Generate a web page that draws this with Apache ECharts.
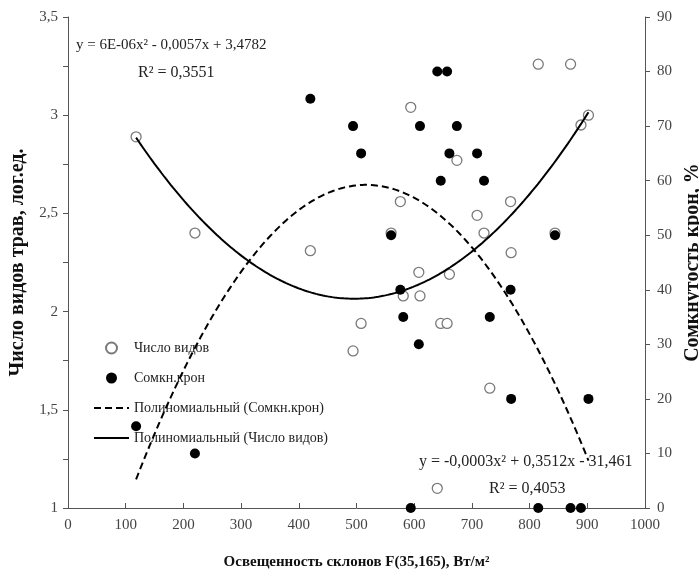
<!DOCTYPE html>
<html>
<head>
<meta charset="utf-8">
<script src="https://cdn.jsdelivr.net/npm/echarts@6/dist/echarts.min.js"></script>
<style>
  html, body { margin: 0; padding: 0; background: #fff; }
  #chart { width: 699px; height: 578px; }
</style>
</head>
<body>
<div id="chart"></div>
<script>
// Slope illumination F(35,165), W/m² for each surveyed site
const illumination = [118, 220, 420, 494, 508, 560, 576, 581, 594, 608, 610, 640, 646,
                      657, 661, 674, 709, 721, 731, 767, 768, 815, 844, 871, 889, 902];
// Number of herb species, log units (left axis)
const speciesLog = [2.89, 2.40, 2.31, 1.80, 1.94, 2.40, 2.56, 2.08, 3.04, 2.20, 2.08, 1.10, 1.94,
                    1.94, 2.19, 2.77, 2.49, 2.40, 1.61, 2.56, 2.30, 3.26, 2.40, 3.26, 2.95, 3.00];
// Canopy closure, % (right axis)
const canopyPct = [15, 10, 75, 70, 65, 50, 40, 35, 0, 30, 70, 80, 60,
                   80, 65, 70, 65, 60, 35, 40, 20, 0, 50, 0, 0, 20];

// Quadratic trend coefficients [a, b, c] for y = a·x² + b·x + c
const speciesTrend = [5.75e-6, -0.0057, 3.4782];
const canopyTrend = [-0.00034, 0.3512, -31.461];
const trendRange = [118, 902];

const xTicks = { min: 0, max: 1000, interval: 100 };
const leftTicks = { min: 1, max: 3.5, interval: 0.5 };
const rightTicks = { min: 0, max: 90, interval: 10 };

const seriesNames = ['Число видов', 'Сомкн.крон',
                     'Полиномиальный (Сомкн.крон)', 'Полиномиальный (Число видов)'];

const FONT = "'Liberation Serif', 'DejaVu Serif', serif";

function trendPoints(c) {
  const pts = [];
  for (let x = trendRange[0]; x <= trendRange[1]; x += 4) {
    pts.push([x, c[0] * x * x + c[1] * x + c[2]]);
  }
  return pts;
}

const comma = v => String(v).replace('.', ',');

const axisLine = { show: true, lineStyle: { color: '#555', width: 1 } };
const tickLabel = { fontFamily: FONT, fontSize: 15, color: '#444' };
const nameStyle = { fontFamily: FONT, fontWeight: 'bold', color: '#111' };

// legend swatches for the trend lines: line only, no marker
const hiddenMarker = { opacity: 0, color: 'rgba(0,0,0,0)', borderColor: 'rgba(0,0,0,0)' };

const chart = echarts.init(document.getElementById('chart'), null, { renderer: 'canvas' });

chart.setOption({
  backgroundColor: '#fff',
  animation: false,
  grid: { left: 68, right: 54, top: 17, bottom: 70, outerBoundsMode: 'none' },
  legend: {
    data: [
      { name: seriesNames[0] },
      { name: seriesNames[1] },
      { name: seriesNames[2], itemStyle: hiddenMarker },
      { name: seriesNames[3], itemStyle: hiddenMarker }
    ],
    orient: 'vertical',
    left: 88,
    top: 336,
    itemWidth: 35,
    itemHeight: 11,
    itemGap: 16,
    textStyle: { fontFamily: FONT, fontSize: 14, color: '#222' }
  },
  xAxis: {
    type: 'value',
    min: xTicks.min, max: xTicks.max, interval: xTicks.interval,
    name: 'Освещенность склонов F(35,165), Вт/м²',
    nameLocation: 'middle',
    nameGap: 47,
    nameTextStyle: Object.assign({ fontSize: 15 }, nameStyle),
    axisLine: axisLine,
    axisTick: { show: true, inside: true, length: 5, lineStyle: { color: '#555' } },
    axisLabel: Object.assign({ margin: 10, formatter: v => String(v) }, tickLabel),
    splitLine: { show: false }
  },
  yAxis: [
    {
      type: 'value',
      position: 'left',
      min: leftTicks.min, max: leftTicks.max, interval: leftTicks.interval,
      name: 'Число видов трав, лог.ед.',
      nameLocation: 'middle',
      nameRotate: 90,
      nameGap: 40,
      nameTextStyle: Object.assign({ fontSize: 20 }, nameStyle),
      axisLine: axisLine,
      axisTick: { show: true, length: 5, lineStyle: { color: '#555' } },
      minorTick: { show: true, splitNumber: 2, length: 5, lineStyle: { color: '#555' } },
      axisLabel: Object.assign({ margin: 10, formatter: comma }, tickLabel),
      splitLine: { show: false }
    },
    {
      type: 'value',
      position: 'right',
      min: rightTicks.min, max: rightTicks.max, interval: rightTicks.interval,
      name: 'Сомкнутость крон, %',
      nameLocation: 'middle',
      nameRotate: 90,
      nameGap: 34,
      nameTextStyle: Object.assign({ fontSize: 20 }, nameStyle),
      axisLine: axisLine,
      axisTick: { show: true, length: 5, lineStyle: { color: '#555' } },
      axisLabel: Object.assign({ margin: 12 }, tickLabel),
      splitLine: { show: false }
    }
  ],
  series: [
    {
      name: seriesNames[0],
      type: 'scatter',
      yAxisIndex: 0,
      symbol: 'circle',
      symbolSize: 10,
      itemStyle: { color: '#fff', borderColor: '#7a7a7a', borderWidth: 1.3, opacity: 1 },
      data: illumination.map((x, i) => [x, speciesLog[i]]),
      z: 2
    },
    {
      name: seriesNames[1],
      type: 'scatter',
      yAxisIndex: 1,
      symbol: 'circle',
      symbolSize: 10,
      itemStyle: { color: '#000', opacity: 1 },
      data: illumination.map((x, i) => [x, canopyPct[i]]),
      z: 3
    },
    {
      name: seriesNames[2],
      type: 'line',
      yAxisIndex: 1,
      symbol: 'none',
      smooth: false,
      lineStyle: { color: '#000', width: 2, type: [7, 4] },
      itemStyle: { color: '#000' },
      data: trendPoints(canopyTrend),
      z: 4
    },
    {
      name: seriesNames[3],
      type: 'line',
      yAxisIndex: 0,
      symbol: 'none',
      smooth: false,
      lineStyle: { color: '#000', width: 2, type: 'solid' },
      itemStyle: { color: '#000' },
      data: trendPoints(speciesTrend),
      z: 4
    }
  ],
  graphic: [
    { type: 'text', left: 76, top: 38,
      style: { text: 'y = 6E-06x² - 0,0057x + 3,4782', font: '15px ' + FONT, fill: '#222' } },
    { type: 'text', left: 138, top: 65,
      style: { text: 'R² = 0,3551', font: '16px ' + FONT, fill: '#222' } },
    { type: 'text', left: 419, top: 454,
      style: { text: 'y = -0,0003x² + 0,3512x - 31,461', font: '16px ' + FONT, fill: '#222' } },
    { type: 'text', left: 489, top: 481,
      style: { text: 'R² = 0,4053', font: '16px ' + FONT, fill: '#222' } }
  ]
});
</script>
</body>
</html>
